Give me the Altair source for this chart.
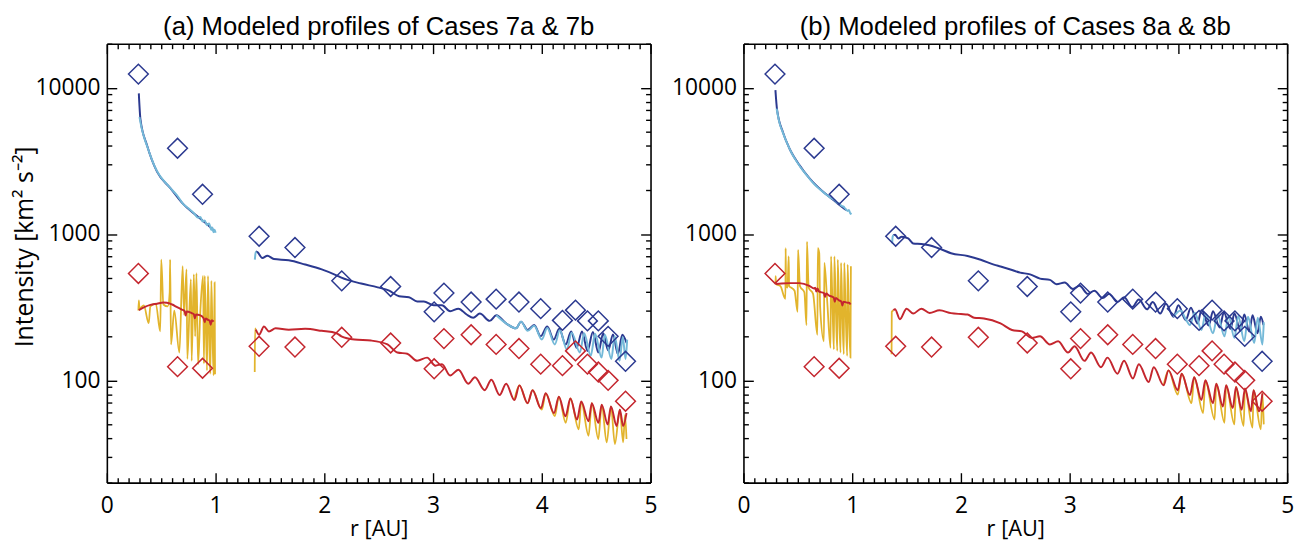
import altair as alt
import pandas as pd

# ---------------- observations (same in both panels) ----------------
OBS_R = [0.29, 0.65, 0.88, 1.40, 1.73, 2.16, 2.61, 3.01, 3.10, 3.35, 3.58, 3.79,
         3.99, 4.19, 4.31, 4.42, 4.52, 4.61, 4.77]
OBS_BLUE = [12400, 3860, 1870, 966, 809, 479, 438, 294, 395, 343, 359, 343,
            309, 257, 302, 255, 255, 200, 135]
OBS_RED = [538, 124, 121, 171, 169, 197, 180, 120, 193, 205, 176, 165,
           129, 126, 159, 129, 114, 100, 72]

# ---------------- panel (a): Cases 7a & 7b ----------------
A_DB_R = [0.294, 0.309, 0.370, 0.461, 0.582, 0.703, 0.824, 0.945, 0.982,
          1.370, 1.385, 1.430, 1.476, 1.536, 1.673, 1.824, 1.976, 2.112, 2.157,
          2.339, 2.491, 2.597, 2.688, 2.778, 2.854, 2.915, 3.006, 3.082, 3.157,
          3.233, 3.309, 3.369, 3.430, 3.521, 3.582, 3.672, 3.763, 3.809, 3.870,
          3.930, 3.990, 4.050, 4.110, 4.160, 4.220, 4.270, 4.320, 4.370, 4.420,
          4.470, 4.520, 4.565, 4.610, 4.655, 4.700, 4.740, 4.780]
A_DB_I = [9160, 6080, 4030, 2670, 2070, 1600, 1337, 1127, 1060,
          760, 752, 686, 711, 675, 662, 619, 573, 522, 503,
          459, 432, 410, 376, 370, 346, 346, 326, 326, 297,
          309, 282, 268, 286, 255, 279, 245, 227, 252, 221,
          239, 200, 233, 190, 225, 176, 216, 167, 216, 159,
          214, 155, 210, 160, 206, 151, 205, 180]

A_LB_R = [0.300, 0.32, 0.35, 0.37, 0.40, 0.44, 0.47, 0.50, 0.55, 0.60, 0.65, 0.70,
          0.75, 0.80, 0.84, 0.86, 0.88, 0.90, 0.92, 0.94, 0.96, 0.97, 0.98, 0.99, 1.00,
          1.361, 1.368, 1.376,
          3.582, 3.672, 3.763, 3.809, 3.87, 3.93, 4.00, 4.05, 4.12, 4.165, 4.23, 4.275,
          4.35, 4.39, 4.45, 4.49, 4.55, 4.58, 4.64, 4.67, 4.715, 4.745, 4.77, 4.785]
A_LB_I = [6300, 5300, 4400, 4000, 3450, 2900, 2620, 2430, 2200, 2000, 1820, 1610,
          1500, 1390, 1290, 1310, 1220, 1240, 1150, 1180, 1070, 1110, 1030, 1070, 1020,
          668, 745, 758,
          279, 245, 227, 252, 218, 236, 190, 228, 176, 220, 163, 212,
          155, 210, 147, 208, 143, 205, 140, 200, 136, 198, 140, 190]

A_RD_R = [0.294, 0.35, 0.40, 0.461, 0.52, 0.552, 0.60, 0.642, 0.69, 0.715, 0.725, 0.735,
          0.78, 0.80, 0.81, 0.82, 0.855, 0.89, 0.90, 0.91, 0.930, 0.945, 0.955, 0.965, 0.982,
          1.370, 1.40, 1.445, 1.491, 1.552, 1.673, 1.824, 1.976, 2.112, 2.157,
          2.278, 2.430, 2.581, 2.672, 2.763, 2.854, 2.945, 3.021, 3.082, 3.157,
          3.233, 3.324, 3.385, 3.475, 3.536, 3.612, 3.672, 3.748, 3.794, 3.869,
          3.915, 3.991, 4.036, 4.112, 4.157, 4.218, 4.263, 4.324, 4.363, 4.430,
          4.460, 4.521, 4.551, 4.606, 4.636, 4.688, 4.718, 4.748, 4.779]
A_RD_I = [302, 318, 328, 334, 340, 339, 330, 318, 305, 298, 278, 296,
          288, 283, 266, 282, 279, 266, 250, 265, 259, 256, 240, 258, 252,
          222, 205, 233, 216, 227, 222, 225, 218, 210, 200,
          190, 187, 176, 155, 152, 136, 143, 126, 129, 108,
          118, 94.9, 105, 85.7, 101, 79.3, 94.9, 73.4, 92.4, 69.8,
          85.7, 64.6, 81.5, 59.8, 77.3, 56.8, 75.3, 53.9, 71.6, 52.6,
          69.8, 51.3, 68.1, 50.0, 66.2, 48.8, 63.0, 48.8, 59.8]

A_YE_R = [0.290, 0.294, 0.300, 0.34, 0.385, 0.40, 0.45, 0.491, 0.500, 0.52,
          0.56, 0.578, 0.582, 0.590, 0.62, 0.667, 0.697, 0.71, 0.733, 0.740,
          0.773, 0.780, 0.800, 0.812, 0.824, 0.839, 0.860, 0.885, 0.893, 0.900,
          0.921, 0.930, 0.945, 0.952, 0.961, 0.972, 0.982, 0.991, 0.995,
          1.360, 1.363, 1.370,
          3.748, 3.794, 3.869, 3.915, 4.00, 4.036, 4.12, 4.157, 4.22, 4.263,
          4.34, 4.363, 4.43, 4.46, 4.52, 4.551, 4.597, 4.636, 4.672, 4.718,
          4.748, 4.765, 4.779]
A_YE_I = [300, 352, 310, 325, 246, 320, 335, 216, 668, 330,
          320, 400, 668, 176, 300, 155, 603, 280, 573, 140,
          491, 136, 531, 200, 540, 129, 300, 517, 130, 517,
          117, 517, 150, 111, 479, 200, 108, 467, 110,
          114, 227, 222,
          73.4, 92.4, 69.8, 85.7, 63.0, 81.5, 56.9, 77.3, 51.3, 75.3,
          46.3, 71.6, 41.8, 69.8, 39.7, 68.1, 37.7, 66.2, 36.7, 63.0,
          37.7, 58, 39.7]

# ---------------- panel (b): Cases 8a & 8b ----------------
B_DB_R = [0.294, 0.309, 0.364, 0.424, 0.515, 0.606, 0.727, 0.818, 0.933, 0.945,
          1.379, 1.394, 1.424, 1.455, 1.515, 1.561, 1.636, 1.697, 1.818, 1.909,
          2.061, 2.182, 2.303, 2.364, 2.455, 2.545, 2.636, 2.727, 2.818, 2.879,
          2.955, 3.030, 3.091, 3.167, 3.227, 3.303, 3.364, 3.439, 3.500, 3.576,
          3.636, 3.712, 3.764, 3.833, 3.885, 3.955, 4.000, 4.067, 4.115, 4.176,
          4.212, 4.279, 4.318, 4.379, 4.418, 4.479, 4.515, 4.570, 4.606, 4.652,
          4.682, 4.727, 4.758, 4.782]
B_DB_I = [9640, 7080, 4940, 3830, 2960, 2410, 1960, 1730, 1480, 1460,
          982, 990, 933, 957, 933, 863, 855, 841, 787, 740,
          708, 668, 618, 600, 573, 545, 530, 496, 486, 454,
          466, 421, 443, 390, 410, 365, 390, 343, 370, 317,
          357, 306, 343, 286, 334, 272, 326, 258, 313, 245,
          302, 237, 297, 230, 291, 225, 286, 218, 282, 216,
          279, 210, 272, 239]

B_LB_R = [0.305, 0.33, 0.36, 0.40, 0.45, 0.50, 0.55, 0.60, 0.65, 0.70, 0.75, 0.80,
          0.84, 0.86, 0.88, 0.90, 0.92, 0.94, 0.96, 0.97, 0.985, 0.99,
          1.368, 1.372, 1.379,
          3.955, 4.02, 4.067, 4.106, 4.15, 4.212, 4.25, 4.318, 4.36, 4.424,
          4.46, 4.515, 4.55, 4.606, 4.64, 4.697, 4.73, 4.773, 4.785]
B_LB_I = [7200, 5800, 5000, 4200, 3500, 3050, 2700, 2430, 2200, 2030, 1890, 1770,
          1700, 1640, 1620, 1560, 1540, 1480, 1440, 1460, 1370, 1400,
          863, 960, 982,
          272, 300, 262, 239, 290, 221, 285, 210, 280, 200,
          278, 195, 275, 185, 272, 180, 268, 176, 250]

B_RD_R = [0.294, 0.35, 0.424, 0.515, 0.606, 0.65, 0.66, 0.67, 0.68, 0.697, 0.74, 0.75,
          0.76, 0.788, 0.83, 0.84, 0.85, 0.879, 0.90, 0.91, 0.92, 0.95, 0.97, 0.985,
          1.379, 1.394, 1.439, 1.500, 1.561, 1.636, 1.712, 1.803, 1.909, 2.000,
          2.061, 2.121, 2.212, 2.364, 2.470, 2.561, 2.651, 2.727, 2.818, 2.894,
          2.985, 3.045, 3.136, 3.197, 3.288, 3.348, 3.439, 3.500, 3.582, 3.636,
          3.727, 3.773, 3.864, 3.909, 3.994, 4.030, 4.106, 4.145, 4.212, 4.248,
          4.318, 4.348, 4.409, 4.439, 4.500, 4.530, 4.582, 4.612, 4.667, 4.691,
          4.742, 4.773]
B_RD_I = [455, 460, 462, 462, 443, 425, 430, 405, 425, 404, 395, 372,
          392, 380, 368, 345, 365, 352, 345, 325, 345, 340, 339, 330,
          301, 306, 262, 309, 286, 309, 289, 301, 288, 284,
          282, 268, 265, 245, 221, 216, 195, 200, 176, 185,
          155, 171, 136, 155, 123, 143, 111, 136, 103, 129,
          97.5, 123, 92.5, 117, 85.7, 111, 79.3, 105, 73.4, 100,
          69.8, 94.9, 66.3, 92.5, 64.6, 90.2, 63.0, 87.9, 61.4, 85.7,
          61.4, 81.5]

B_YE_R = [0.294, 0.296, 0.300, 0.34, 0.386, 0.388, 0.392, 0.405, 0.416, 0.420,
          0.44, 0.47, 0.498, 0.502, 0.52, 0.56, 0.580, 0.584, 0.60, 0.64,
          0.680, 0.684, 0.697, 0.705, 0.740, 0.744, 0.77, 0.801, 0.805, 0.82,
          0.832, 0.836, 0.85, 0.863, 0.867, 0.88, 0.893, 0.897, 0.91, 0.923,
          0.927, 0.94, 0.954, 0.958, 0.97, 0.984, 0.988,
          1.362, 1.364, 1.379,
          3.864, 3.909, 3.994, 4.030, 4.121, 4.145, 4.227, 4.248, 4.333, 4.348,
          4.424, 4.439, 4.515, 4.530, 4.600, 4.612, 4.682, 4.691, 4.758, 4.773, 4.785]
B_YE_I = [455, 516, 455, 440, 361, 800, 450, 430, 704, 440,
          430, 410, 294, 780, 440, 400, 239, 887, 430, 390,
          205, 800, 741, 320, 185, 635, 350, 167, 704, 300,
          163, 704, 300, 159, 668, 300, 155, 635, 280, 151,
          635, 290, 147, 619, 280, 143, 603,
          151, 294, 301,
          92.5, 117, 80, 111, 69.8, 105, 59.8, 100, 54.0, 94.9,
          51.3, 92.5, 50.0, 90.2, 48.8, 87.9, 47.5, 85.7, 46.3, 81.5, 50]

PANEL_TITLES = ["(a) Modeled profiles of Cases 7a & 7b",
                "(b) Modeled profiles of Cases 8a & 8b"]
X_TITLE = "r [AU]"
Y_TITLE = "Intensity [km\u00b2 s\u207b\u00b2]"
X_TICKS = [round(i * 0.1, 1) for i in range(51)]
Y_TICKS = [m * 10 ** e for e in range(1, 5) for m in range(1, 10) if 20 <= m * 10 ** e <= 20000]

# ---------------- styling ----------------
FONT = "Open Sans"
TITLE_FONT = "Liberation Sans"
C_DB = "#2b3990"
C_LB = "#74b9d8"
C_RD = "#c4262e"
C_YE = "#e2b42c"

XS = alt.Scale(domain=[0, 5], nice=False, zero=False)
YS = alt.Scale(type="log", domain=[20, 20000], nice=False)

X_MAJ = "datum.value % 1 == 0"
Y_MAJ = "indexof([100, 1000, 10000], datum.value) >= 0"

common_axis = dict(domainColor="black", domainWidth=1.6, tickColor="black", tickWidth=1.4,
                   grid=False, labelFlush=False, labelOverlap=False)


def seg_ids(rs):
    ids, s = [], 0
    for i, r in enumerate(rs):
        if i > 0 and r - rs[i - 1] > 0.3:
            s += 1
        ids.append(s)
    return ids


def line_layer(rs, vals, color, width, axes=False, ytitle=None):
    df = pd.DataFrame({"r": rs, "I": vals, "seg": seg_ids(rs)})
    if axes:
        xa = alt.Axis(orient="bottom", values=X_TICKS, title=X_TITLE,
                      labelExpr="%s ? format(datum.value, 'd') : ''" % X_MAJ,
                      tickSize={"expr": "%s ? -10 : -5" % X_MAJ},
                      labelPadding=22, titlePadding=-4, titleFontSize=22, **common_axis)
        if ytitle:
            ya = alt.Axis(orient="left", values=Y_TICKS, title=ytitle,
                          labelExpr="%s ? format(datum.value, 'd') : ''" % Y_MAJ,
                          tickSize={"expr": "%s ? -10 : -5" % Y_MAJ},
                          labelPadding=17, titlePadding=-3, titleY=205,
                          titleFontSize=25, **common_axis)
        else:
            ya = alt.Axis(orient="left", values=Y_TICKS, title=None,
                          labelExpr="%s ? format(datum.value, 'd') : ''" % Y_MAJ,
                          tickSize={"expr": "%s ? -10 : -5" % Y_MAJ},
                          labelPadding=17, **common_axis)
    else:
        xa = None
        ya = None
    return alt.Chart(df).mark_line(color=color, strokeWidth=width, interpolate="monotone",
                                   clip=True).encode(
        x=alt.X("r:Q", scale=XS, axis=xa),
        y=alt.Y("I:Q", scale=YS, axis=ya),
        detail="seg:N",
    )


def obs_layer():
    df = pd.concat([
        pd.DataFrame({"r": OBS_R, "I": OBS_BLUE, "c": C_DB}),
        pd.DataFrame({"r": OBS_R, "I": OBS_RED, "c": C_RD}),
    ])
    xa = alt.Axis(orient="top", values=X_TICKS, title=None, labels=False,
                  tickSize={"expr": "%s ? -10 : -5" % X_MAJ}, **common_axis)
    ya = alt.Axis(orient="right", values=Y_TICKS, title=None, labels=False,
                  tickSize={"expr": "%s ? -10 : -5" % Y_MAJ}, **common_axis)
    return alt.Chart(df).mark_point(shape="diamond", filled=False, size=400,
                                    strokeWidth=1.5, opacity=1).encode(
        x=alt.X("r:Q", scale=XS, axis=xa),
        y=alt.Y("I:Q", scale=YS, axis=ya),
        color=alt.Color("c:N", scale=None),
    )


def panel(title, db, lb, ye, rd, ytitle):
    layers = [
        line_layer(db[0], db[1], C_DB, 2.0, axes=True, ytitle=ytitle),
        line_layer(lb[0], lb[1], C_LB, 2.0),
        line_layer(ye[0], ye[1], C_YE, 1.8),
        line_layer(rd[0], rd[1], C_RD, 2.0),
        obs_layer(),
    ]
    return alt.layer(*layers).resolve_axis(x="independent", y="independent").properties(
        width=550, height=444,
        title=alt.TitleParams(title, fontSize=26, font=TITLE_FONT, fontWeight="normal",
                              color="black", offset=-7),
    )


pa = panel(PANEL_TITLES[0], (A_DB_R, A_DB_I), (A_LB_R, A_LB_I), (A_YE_R, A_YE_I),
           (A_RD_R, A_RD_I), Y_TITLE)
pb = panel(PANEL_TITLES[1], (B_DB_R, B_DB_I), (B_LB_R, B_LB_I), (B_YE_R, B_YE_I),
           (B_RD_R, B_RD_I), None)

chart = alt.hconcat(pa, pb, spacing=14).properties(
    padding={"left": 5, "top": 3, "right": 5, "bottom": 5},
    background="white",
).configure_view(stroke=None).configure_axis(
    labelFont=FONT, titleFont=FONT, labelFontSize=23,
    labelColor="black", titleColor="black", titleFontWeight="normal",
)

chart.save("out.html", embed_options={"renderer": "svg", "actions": False})
